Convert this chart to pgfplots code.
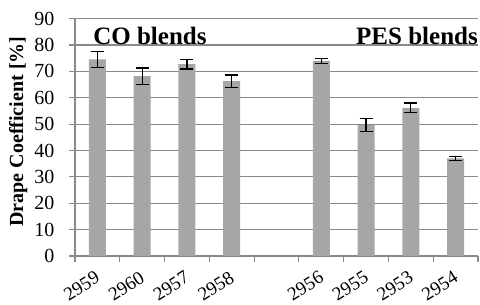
\documentclass[border=0pt]{standalone}
\usepackage{fontspec}
\setmainfont{Liberation Serif}
\usepackage{pgfplots}
\pgfplotsset{compat=1.18}
\definecolor{barg}{HTML}{A6A6A6}
\definecolor{gridg}{HTML}{898989}
\pgfplotstableread{
x y e
0 74.5 3.0
1 68.2 3.1
2 72.7 1.8
3 66.3 2.3
5 74.0 0.9
6 49.6 2.4
7 56.2 1.8
8 37.0 0.8
}\drapedata
\begin{document}
\begin{tikzpicture}
\path[use as bounding box] (0,0) rectangle (480pt,305pt);
\begin{axis}[
  at={(75pt,49pt)}, anchor=south west,
  scale only axis, width=403pt, height=237.4pt,
  xmin=-0.5, xmax=8.5, ymin=0, ymax=90,
  axis x line*=bottom, axis y line*=left,
  axis line style={gridg, line width=1.2pt, -},
  ytick={0,10,...,90},
  ymajorgrids, major grid style={gridg, line width=1.2pt},
  xtick={0,1,2,3,5,6,7,8},
  xticklabels={2959,2960,2957,2958,2956,2955,2953,2954},
  minor xtick={-0.5,0.5,...,8.5},
  tick align=outside,
  major tick length=6pt, minor tick length=6pt,
  major x tick style={draw=none},
  every tick/.style={gridg, line width=1.2pt},
  /pgf/number format/assume math mode=true,
  yticklabel style={font=\fontsize{20}{20}\selectfont, black, xshift=-11pt},
  xticklabel style={font=\fontsize{19}{19}\selectfont, black, xshift=-3pt, yshift=-8pt, rotate=32, anchor=north east, inner sep=0pt},
  ylabel={Drape Coefficient [\%]},
  ylabel style={font=\fontsize{20}{20}\selectfont\bfseries, at={(axis description cs:-0.141,0.524)}, anchor=center},
  ybar, bar width=17pt,
]
\addplot[fill=barg, draw=none,
  error bars/.cd, y dir=both, y explicit,
  error bar style={black, line width=1.2pt},
  error mark options={rotate=90, mark size=6.5pt, line width=1.2pt, black}]
  table[x=x, y=y, y error=e] {\drapedata};
\node[anchor=base west, font=\fontsize{25}{25}\selectfont\bfseries, inner sep=0pt] at (rel axis cs:0.045,0.889) {CO blends};
\node[anchor=base east, font=\fontsize{25}{25}\selectfont\bfseries, inner sep=0pt] at (rel axis cs:1.0,0.889) {PES blends};
\end{axis}
\end{tikzpicture}
\end{document}
